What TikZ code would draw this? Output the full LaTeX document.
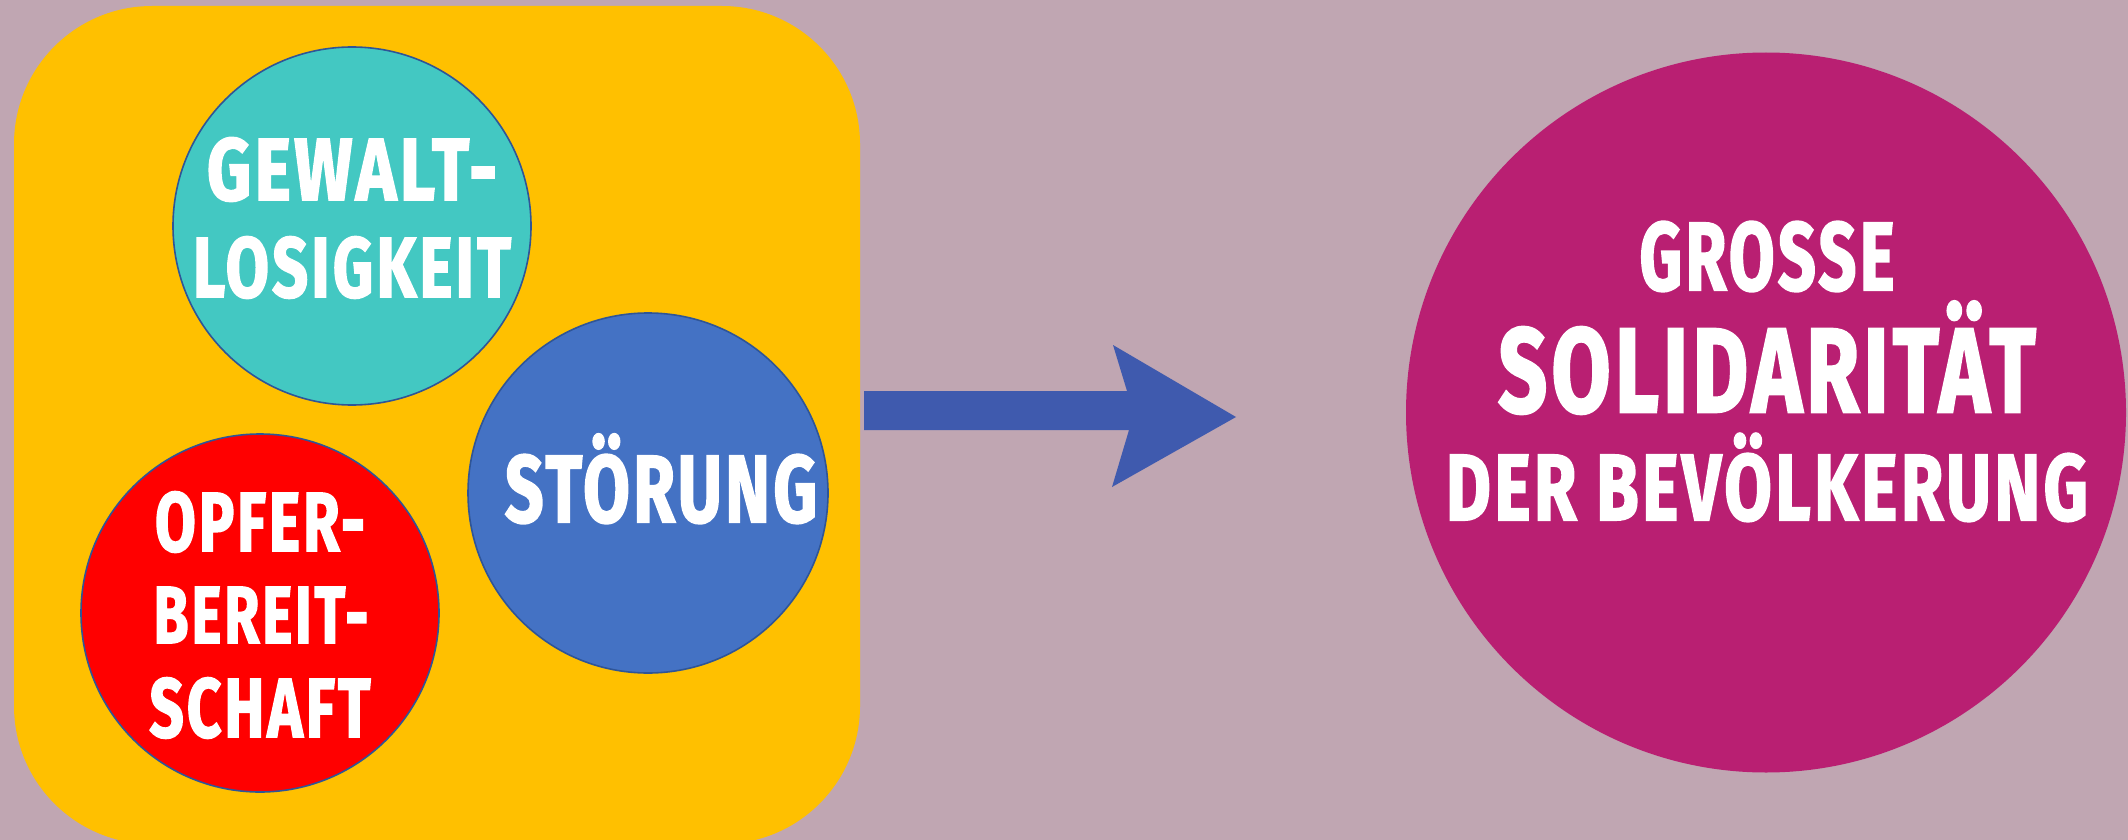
\documentclass[tikz,border=0pt]{standalone}
\usepackage{fontspec}
\setmainfont{Fira Sans}[BoldFeatures={FakeBold=2.2,LetterSpace=5}]
\usepackage{graphicx}
\definecolor{bgc}{HTML}{C0A6B2}
\definecolor{boxc}{HTML}{FFC000}
\definecolor{tealc}{HTML}{43C8C2}
\definecolor{redc}{HTML}{FF0000}
\definecolor{bluec}{HTML}{4472C4}
\definecolor{edgec}{HTML}{2F5597}
\definecolor{magc}{HTML}{B91F72}
\definecolor{arrc}{HTML}{3F5AAE}
\newcommand{\fitbox}[3]{\resizebox{#1pt}{#2pt}{\bfseries\smash{#3}\vphantom{E}}}
\begin{document}
\begin{tikzpicture}[x=1pt,y=-1pt,
  circ/.style={circle, inner sep=0pt, minimum size=358pt, draw=edgec, line width=1.6pt},
  lbl/.style={anchor=base, inner sep=0pt, text=white}]
\useasboundingbox (0,0) rectangle (2128,840);
\fill[bgc] (0,0) rectangle (2128,840);
\begin{scope}
\clip (0,0) rectangle (2128,840);
\node (box) [fill=boxc, rounded corners=138pt, minimum width=846pt, minimum height=838pt, inner sep=0pt] at (437,425) {};
\node (mag) [circle, fill=magc, inner sep=0pt, minimum size=720pt] at (1766,412.5) {};
\end{scope}
\node (gew) [circ, fill=tealc] at (352,226) {};
\node (opf) [circ, fill=redc] at (260,613) {};
\node (sto) [circ, fill=bluec, minimum size=360pt] at (648,493) {};
% arrow
\coordinate (a1) at (864,391);
\coordinate (a2) at (1127,391);
\coordinate (a3) at (1113,345);
\coordinate (a4) at (1236,417);
\coordinate (a5) at (1112,487);
\coordinate (a6) at (1129,430);
\coordinate (a7) at (864,430);
\fill[arrc] (a1) -- (a2) -- (a3) -- (a4) -- (a5) -- (a6) -- (a7) -- cycle;
% labels
\node (g1) [lbl] at (352,200) {\fitbox{290}{61}{GEWALT-}};
\node (g2) [lbl] at (352,297) {\fitbox{318}{59}{LOSIGKEIT}};
\node (o1) [lbl] at (260,551) {\fitbox{210}{58}{OPFER-}};
\node (o2) [lbl] at (261,643) {\fitbox{215}{56}{BEREIT-}};
\node (o3) [lbl] at (260,737) {\fitbox{221}{58}{SCHAFT}};
\node (s1) [lbl] at (661,522) {\fitbox{312}{66}{STÖRUNG}};
\node (m1) [lbl] at (1767,290) {\fitbox{255}{67}{GROSSE}};
\node (m2) [lbl] at (1767,412) {\fitbox{537}{83}{SOLIDARITÄT}};
\node (m3) [lbl] at (1767,520) {\fitbox{642}{65}{DER BEVÖLKERUNG}};
\end{tikzpicture}
\end{document}
